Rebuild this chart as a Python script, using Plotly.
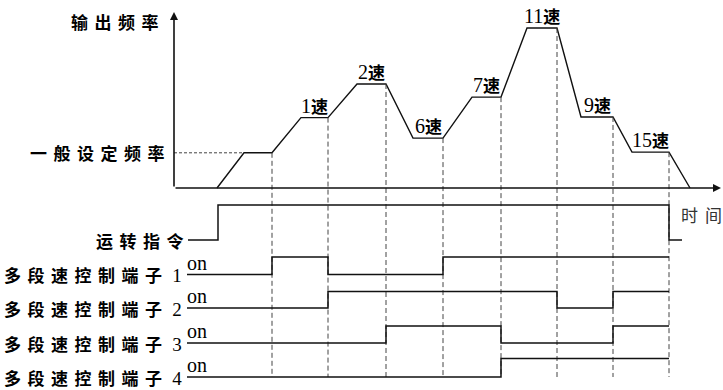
import plotly.graph_objects as go

# ---------------- data ----------------
# time in arbitrary units
switch_t = [9.8, 15.4, 21.2, 26.9, 32.7, 38.3, 43.9, 49.5]
freq_t = [4.3, 7.0, 9.8, 12.7, 15.4, 18.3, 21.2, 23.9, 26.9, 29.8, 32.7,
          35.3, 38.3, 40.7, 43.9, 45.8, 49.5, 51.6]
freq_f = [0, 11, 11, 22, 22, 32.5, 32.5, 15.6, 15.6, 28.4, 28.4,
          50, 50, 22.2, 22.2, 11.2, 11.2, 0]
general_f = 11
general_t_end = 7.0

speed_names = ["1", "2", "6", "7", "11", "9", "15"]
speed_t0 = [12.7, 18.3, 23.9, 29.8, 35.3, 40.7, 45.8]
speed_t1 = [15.4, 21.2, 26.9, 32.7, 38.3, 43.9, 49.5]
speed_f = [22, 32.5, 15.6, 28.4, 50, 22.2, 11.2]

run_t = [1.4, 4.4, 49.5, 50.8]
run_s = [0, 1, 0, 0]

seg_t = [1.3, 9.8, 15.4, 21.2, 26.9, 32.7, 38.3, 43.9, 49.5]
term_states = {
    "1": [0, 1, 0, 0, 1, 1, 1, 1],
    "2": [0, 0, 1, 1, 1, 1, 0, 1],
    "3": [0, 0, 0, 1, 1, 0, 0, 1],
    "4": [0, 0, 0, 0, 0, 1, 1, 1],
}

# ---------------- layout helpers ----------------
W, H = 723, 390
def pxx(x):
    return x / W
def pxy(y):
    return 1 - y / H

T_PER_PX = 0.1          # time units per pixel
T_ORIGIN_PX = 174       # pixel of time 0
F_PER_PX = 1 / 3.2      # freq units per pixel
F_ORIGIN_PX = 188       # pixel of freq 0
x_range = [(0 - T_ORIGIN_PX) * T_PER_PX, (W - T_ORIGIN_PX) * T_PER_PX]
y_range = [(F_ORIGIN_PX - H) * F_PER_PX, F_ORIGIN_PX * F_PER_PX]
f_bottom = (F_ORIGIN_PX - 377) * F_PER_PX
t_axis_end = (721 - T_ORIGIN_PX) * T_PER_PX
f_axis_top = (F_ORIGIN_PX - 12) * F_PER_PX

def row_domain(low_px, high_px):
    a = low_px - high_px
    return [pxy(low_px + 0.5 * a), pxy(high_px - 0.5 * a)]

rows = {"run": (240, 205), "1": (274.5, 257), "2": (308, 291.5),
        "3": (343, 326), "4": (377, 358.5)}
row_axis = {"run": "y2", "1": "y3", "2": "y4", "3": "y5", "4": "y6"}

CJK = "Noto Sans CJK SC"
SERIF = "Liberation Serif"
INK = "#111"
DASH = "#444"

fig = go.Figure()

# frequency profile
fig.add_trace(go.Scatter(x=freq_t, y=freq_f, mode="lines",
                         line=dict(color=INK, width=1.4), xaxis="x", yaxis="y"))

# dashed verticals
level_at = dict(zip(freq_t, freq_f))
dx, dy = [], []
for t in switch_t:
    dx += [t, t, None]
    dy += [level_at[t], f_bottom, None]
fig.add_trace(go.Scatter(x=dx, y=dy, mode="lines",
                         line=dict(color=DASH, width=1, dash="5px,3px"),
                         xaxis="x", yaxis="y"))
# general frequency dashed
fig.add_trace(go.Scatter(x=[0, general_t_end], y=[general_f, general_f], mode="lines",
                         line=dict(color=DASH, width=1, dash="3px,2px"),
                         xaxis="x", yaxis="y"))

# run command
fig.add_trace(go.Scatter(x=run_t, y=run_s, mode="lines", line_shape="hv",
                         line=dict(color=INK, width=1.5), xaxis="x", yaxis="y2"))
# terminals
for k, st in term_states.items():
    fig.add_trace(go.Scatter(x=seg_t, y=st + [st[-1]], mode="lines", line_shape="hv",
                             line=dict(color=INK, width=1.5), xaxis="x",
                             yaxis=row_axis[k]))

ann = []
# axes arrows
ann.append(dict(x=0, y=f_axis_top, ax=0, ay=0, xref="x", yref="y", axref="x", ayref="y",
                text="", showarrow=True, arrowhead=2, arrowsize=1.0, arrowwidth=1.6,
                arrowcolor=INK, standoff=0))
ann.append(dict(x=t_axis_end, y=0, ax=0, ay=0, xref="x", yref="y", axref="x", ayref="y",
                text="", showarrow=True, arrowhead=2, arrowsize=1.0, arrowwidth=1.6,
                arrowcolor=INK, standoff=0))

def spaced(s, sp=6.5):
    return f'<span style="letter-spacing:{sp}px">{s[:-1]}</span>{s[-1]}'

LBL = dict(family=CJK, size=17, color="#000", weight="bold")

# speed labels
for name, t0, t1, f in zip(speed_names, speed_t0, speed_t1, speed_f):
    ann.append(dict(x=(t0 + t1) / 2, y=f, xref="x", yref="y", xanchor="center",
                    yanchor="bottom", showarrow=False, yshift=-2,
                    text=f'<span style="font-family:{SERIF};font-size:20px;font-weight:normal">{name}</span>速',
                    font=dict(family=CJK, size=17, color="#000", weight="bold")))

# left labels
ann.append(dict(x=pxx(161), y=pxy(21), xref="paper", yref="paper", xanchor="right",
                yanchor="middle", showarrow=False, text=spaced("输出频率"), font=LBL))
ann.append(dict(x=pxx(167), y=general_f, xref="paper", yref="y", xanchor="right",
                yanchor="middle", showarrow=False, text=spaced("一般设定频率"), font=LBL))
ann.append(dict(x=pxx(186), y=0, xref="paper", yref="y2", xanchor="right",
                yanchor="middle", showarrow=False, text=spaced("运转指令"), font=LBL))
for k in term_states:
    ann.append(dict(x=pxx(184), y=0, xref="paper", yref=row_axis[k], xanchor="right",
                    yanchor="middle", showarrow=False,
                    text='<span style="letter-spacing:6.5px">多段速控制端子</span>' +
                    f'<span style="font-family:{SERIF};font-size:19px;font-weight:normal;letter-spacing:0px">\u2009{k}</span>',
                    font=LBL))
    ann.append(dict(x=seg_t[0], y=0, xref="x", yref=row_axis[k], xanchor="left",
                    yanchor="bottom", showarrow=False, text="on", xshift=-2, yshift=-1,
                    font=dict(family=SERIF, size=20, color="#000")))
ann.append(dict(x=pxx(679), y=pxy(214), xref="paper", yref="paper", xanchor="left",
                yanchor="middle", showarrow=False, text=spaced("时间", 7),
                font=dict(family=CJK, size=17, color="#333")))

lay = dict(width=W, height=H, margin=dict(l=0, r=0, t=0, b=0),
           paper_bgcolor="white", plot_bgcolor="rgba(0,0,0,0)", showlegend=False,
           annotations=ann,
           xaxis=dict(range=x_range, domain=[0, 1], visible=False, fixedrange=True),
           yaxis=dict(range=y_range, domain=[0, 1], visible=False, fixedrange=True))
for k, ax in row_axis.items():
    lay["yaxis" + ax[1:]] = dict(range=[-0.5, 1.5], domain=row_domain(*rows[k]),
                                 anchor="x", visible=False, fixedrange=True)
fig.update_layout(**lay)
fig.write_html("out.html", config={"displayModeBar": False},
               post_script="document.body.style.margin='0';document.body.style.overflow='hidden';")
